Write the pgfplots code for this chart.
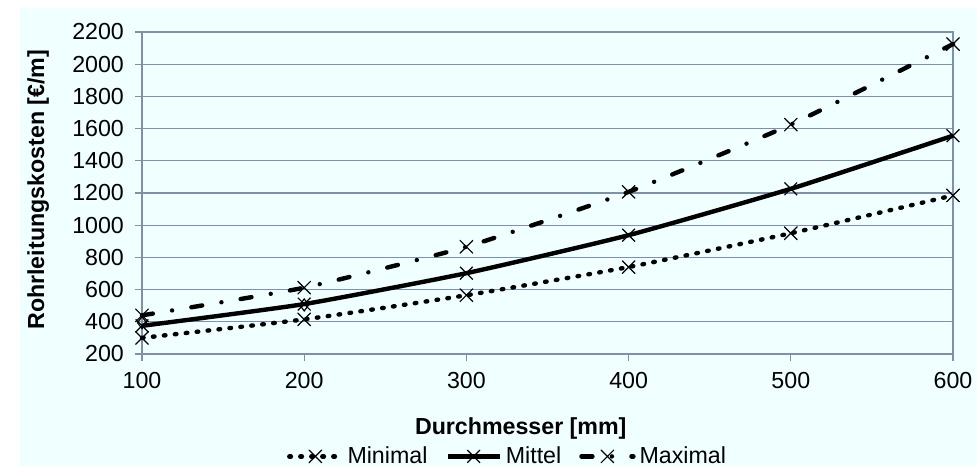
\documentclass[border=0pt]{standalone}
\usepackage{pgfplots}
\pgfplotsset{compat=1.18}
\usepackage{fontspec}
\setmainfont{Liberation Sans}
\definecolor{bgc}{HTML}{F0FFFF}
\definecolor{gridc}{RGB}{128,145,165}
\newcommand{\fs}{\fontsize{11.6pt}{13.9pt}\selectfont}
\begin{document}
\fs
\begin{tikzpicture}
\path[use as bounding box] (-71pt,-56pt) rectangle (417.5pt,177pt);
\fill[white] (-71pt,-56pt) rectangle (417.5pt,177pt);
\fill[bgc] (-61pt,-56pt) rectangle (417.5pt,173pt);
\begin{axis}[
  at={(0pt,0pt)}, anchor=origin,
  scale only axis, width=405.5pt, height=161pt,
  xmin=100, xmax=600, ymin=200, ymax=2200,
  xtick={100,200,300,400,500,600},
  ytick={200,400,...,2200},
  ymajorgrids, grid style={gridc, line width=0.6pt},
  axis line style={gridc, line width=0.6pt},
  tick style={gridc, line width=0.6pt},
  tick align=outside, major tick length=3.5pt,
  xtick pos=bottom, ytick pos=left,
  /pgf/number format/assume math mode=true,
  /pgf/number format/1000 sep={},
  tick label style={font=\fs},
  yticklabel style={xshift=-1.5pt},
  xticklabel style={yshift=-1.5pt},
  xlabel={\textbf{Durchmesser [mm]}},
  ylabel={\textbf{Rohrleitungskosten [€/m]}},
  label style={font=\fs},
  xlabel style={at={(axis description cs:0.467,-0.232)}, anchor=center},
  ylabel style={at={(axis description cs:-0.128,0.51)}, anchor=center},
  clip=false,
  legend columns=3,
  legend style={at={(axis description cs:0.452,-0.318)}, anchor=center, draw=none, fill=none,
    font=\fs, inner sep=0pt,
    /tikz/every even column/.append style={column sep=7pt}},
  legend cell align=left,
  legend image code/.code={\draw[mark repeat=2,mark phase=2,#1] plot coordinates {(0pt,0pt)(13pt,0pt)(26pt,0pt)};},
]
\addplot[black, line width=2.2pt, line cap=round, dash pattern=on 0.8pt off 4.7pt, smooth, tension=0.3,
  mark=x, mark size=4.5pt, mark options={solid, line width=0.6pt}]
  coordinates {(100,300) (200,415) (300,565) (400,740) (500,950) (600,1185)};
\addlegendentry{Minimal}
\addplot[black, line width=2.2pt, smooth, tension=0.3,
  mark=x, mark size=4.5pt, mark options={solid, line width=0.6pt}]
  coordinates {(100,375) (200,510) (300,702) (400,938) (500,1226) (600,1556)};
\addlegendentry{Mittel}
\addplot[black, line width=2.2pt, line cap=round, dash pattern=on 5.5pt off 9.75pt on 0pt off 9.75pt, smooth, tension=0.3,
  mark=x, mark size=4.5pt, mark options={solid, line width=0.6pt}]
  coordinates {(100,440) (200,612) (300,866) (400,1207) (500,1625) (600,2125)};
\addlegendentry{Maximal}
\addplot[black, only marks, mark=diamond, mark size=3pt, mark options={line width=0.6pt}, forget plot]
  coordinates {(100,395) (200,505)};
\end{axis}
\end{tikzpicture}
\end{document}
